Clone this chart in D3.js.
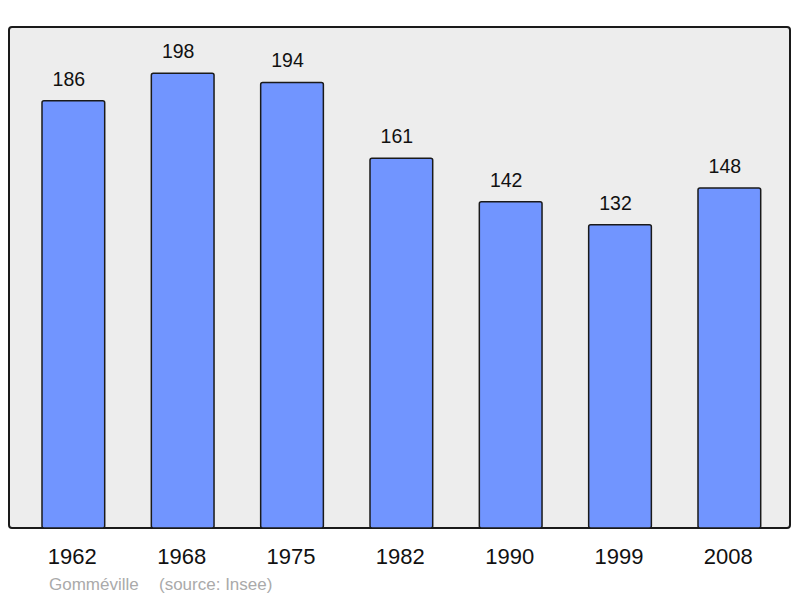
<!DOCTYPE html>
<html>
<head>
<meta charset="utf-8">
<script src="https://cdn.jsdelivr.net/npm/d3@7"></script>
<style>
  body { margin: 0; background: #fff; }
  svg { display: block; font-family: "Liberation Sans", Arial, sans-serif; }
</style>
</head>
<body>
<div id="chart"></div>
<script>
// population per census year
var years = ["1962", "1968", "1975", "1982", "1990", "1999", "2008"];
var population = [186, 198, 194, 161, 142, 132, 148];
var commune = "Gomméville";
var source = "(source: Insee)";

var width = 800, height = 598;

var svg = d3.select("#chart").append("svg")
  .attr("width", width)
  .attr("height", height);

// grey panel behind the bars
svg.append("rect")
  .attr("x", 9)
  .attr("y", 27)
  .attr("width", 781)
  .attr("height", 501)
  .attr("rx", 3)
  .attr("fill", "#ededed")
  .attr("stroke", "#1a1a1a")
  .attr("stroke-width", 2);

var x = d3.scaleBand()
  .domain(years)
  .range([9.2, 793.5])
  .paddingInner(0.4265)
  .paddingOuter(0.3);

var y = d3.scaleLinear()
  .domain([0, 200])
  .range([528, 68.6]);

var data = years.map((yr, i) => ({ year: yr, value: population[i] }));

svg.append("g")
  .selectAll("rect")
  .data(data)
  .enter().append("rect")
  .attr("x", d => x(d.year))
  .attr("y", d => y(d.value))
  .attr("width", x.bandwidth())
  .attr("height", d => y(0) - y(d.value))
  .attr("rx", 2)
  .attr("fill", "#7195ff")
  .attr("stroke", "#1a1a1a")
  .attr("stroke-width", 1.5);

// value labels above bars (sit a little left of the bar centre)
svg.append("g")
  .selectAll("text")
  .data(data)
  .enter().append("text")
  .attr("x", d => x(d.year) + x.bandwidth() / 2 - 4.5)
  .attr("y", d => y(d.value) - 15)
  .attr("text-anchor", "middle")
  .attr("font-size", 19.5)
  .attr("fill", "#111")
  .text(d => d.value);

// year labels under the panel
svg.append("g")
  .selectAll("text")
  .data(years)
  .enter().append("text")
  .attr("x", d => x(d) + x.bandwidth() / 2 - 1)
  .attr("y", 564)
  .attr("text-anchor", "middle")
  .attr("font-size", 22)
  .attr("fill", "#111")
  .text(d => d);

// footer
var footer = svg.append("g")
  .attr("font-size", 17)
  .attr("fill", "#aaaaaa");
footer.append("text").attr("x", 49).attr("y", 590).text(commune);
footer.append("text").attr("x", 159).attr("y", 590).text(source);
</script>
</body>
</html>
